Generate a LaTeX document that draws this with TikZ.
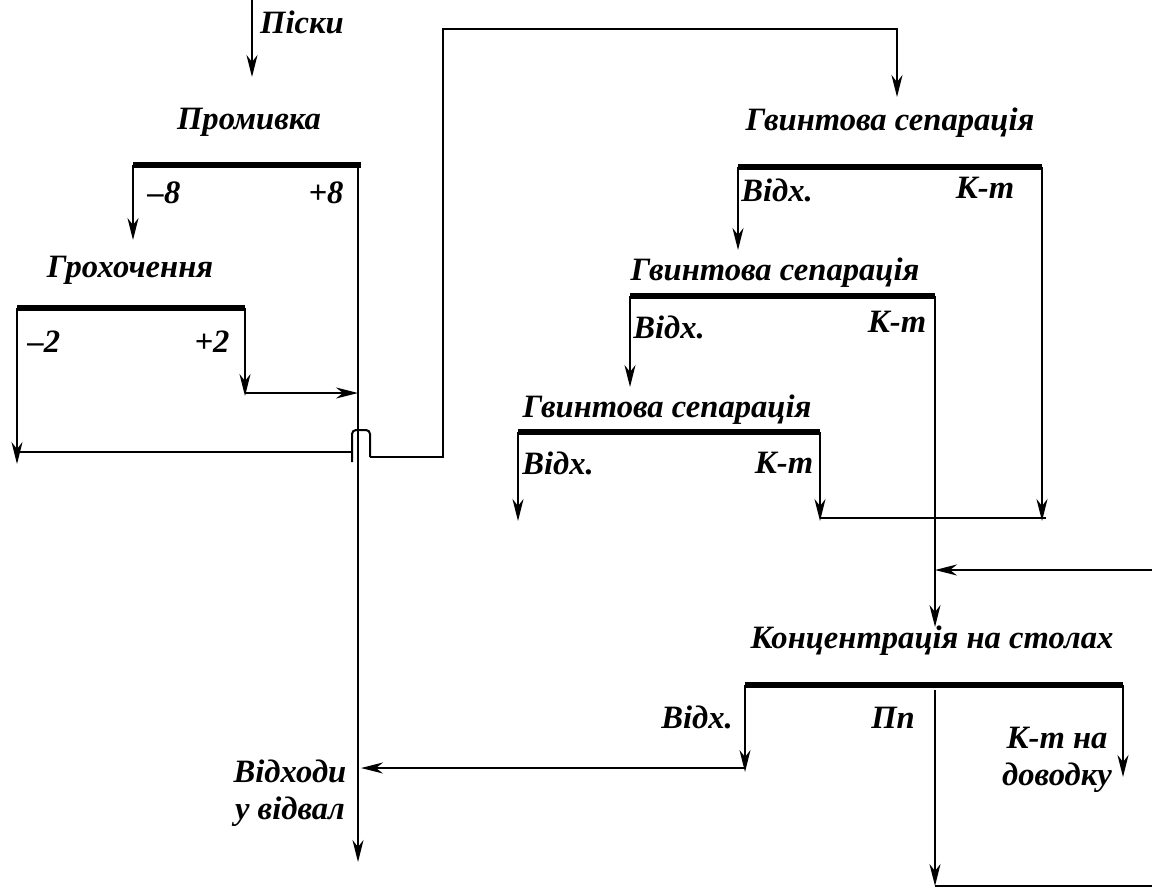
\documentclass[tikz,border=0pt]{standalone}
\usepackage{fontspec}
\setmainfont{Liberation Serif}
\usetikzlibrary{arrows.meta}
\begin{document}
\begin{tikzpicture}[x=0.5pt,y=-0.5pt,
  font=\fontsize{16.3}{18.5}\selectfont\bfseries\itshape,
  ln/.style={line width=1pt},
  bar/.style={line width=3pt},
  arr/.style={line width=1pt,-{Stealth[length=11pt,width=5.5pt,inset=3.5pt]}},
  lbl/.style={inner sep=0pt}]
\useasboundingbox (0,0) rectangle (1152,889);
% labels
\node[lbl] (piski) at (302,22) {Піски};
\node[lbl] (prom) at (249,122) {Промивка};
\node[lbl] (m8) at (164,193) {–8};
\node[lbl] (p8) at (326,193) {+8};
\node[lbl] (groh) at (130,270) {Грохочення};
\node[lbl] (m2) at (44,342) {–2};
\node[lbl] (p2) at (212,342) {+2};
\node[lbl] (gs1) at (890,123) {Гвинтова сепарація};
\node[lbl] (v1) at (777,190) {Відх.};
\node[lbl] (k1) at (985,188) {К-т};
\node[lbl] (gs2) at (775,273) {Гвинтова сепарація};
\node[lbl] (v2) at (669,327) {Відх.};
\node[lbl] (k2) at (897,322) {К-т};
\node[lbl] (gs3) at (667,410) {Гвинтова сепарація};
\node[lbl] (v3) at (558,463) {Відх.};
\node[lbl] (k3) at (784,463) {К-т};
\node[lbl] (kons) at (932,641) {Концентрація на столах};
\node[lbl] (v4) at (697,717) {Відх.};
\node[lbl] (pp) at (893,718) {Пп};
\node[lbl,align=center] (kt) at (1057,760) {К-т на\\доводку};
\node[lbl,align=center] (vidv) at (290,793) {Відходи\\у відвал};
% coordinates
\coordinate (s0) at (252,0);
\coordinate (s1) at (252,77);
\coordinate (b1l) at (133,165); \coordinate (b1r) at (361,165);
\coordinate (b1m) at (358,165);
\coordinate (b1a) at (133,240);
\coordinate (b2l) at (17,308); \coordinate (b2r) at (245,308);
\coordinate (b2a) at (17,464);
\coordinate (b2b) at (245,396);
\coordinate (b2c) at (245,393);
\coordinate (main1) at (358,393);
\coordinate (mainend) at (358,862);
\coordinate (h1) at (17,452); \coordinate (h2) at (352,452);
\coordinate (j1) at (352,462); \coordinate (j2) at (352,430); \coordinate (j3) at (370,430); \coordinate (j4) at (370,457);
\coordinate (h3) at (443,457); \coordinate (h4) at (443,29); \coordinate (h5) at (897,29); \coordinate (h6) at (897,97);
\coordinate (b3l) at (738,167); \coordinate (b3r) at (1042,167);
\coordinate (b3a) at (738,250); \coordinate (b3b) at (1042,521);
\coordinate (b4l) at (630,296); \coordinate (b4r) at (935,296);
\coordinate (b4a) at (630,387); \coordinate (b4b) at (935,627);
\coordinate (b5l) at (518,432); \coordinate (b5r) at (820,432);
\coordinate (b5a) at (518,521); \coordinate (b5b) at (820,521);
\coordinate (c1) at (820,518); \coordinate (c2) at (1046,518);
\coordinate (r1) at (1152,570); \coordinate (r2) at (935,570);
\coordinate (b6l) at (745,685); \coordinate (b6r) at (1123,685);
\coordinate (b6a) at (745,772); \coordinate (b6c) at (745,768); \coordinate (b6d) at (361,768);
\coordinate (b6b) at (1123,777);
\coordinate (pm0) at (935,690); \coordinate (pm1) at (935,886); \coordinate (pm2) at (1152,886);
% bars
\draw[bar] (b1l) -- (b1r);
\draw[bar] (b2l) -- (b2r);
\draw[bar] (b3l) -- (b3r);
\draw[bar] (b4l) -- (b4r);
\draw[bar] (b5l) -- (b5r);
\draw[bar] (b6l) -- (b6r);
% flows
\draw[arr] (s0) -- (s1);
\draw[arr] (b1l) -- (b1a);
\draw[arr] (b1m) -- (mainend);
\draw[arr] (b2l) -- (b2a);
\draw[arr] (b2r) -- (b2b);
\draw[arr] (b2c) -- (main1);
\draw[ln] (h1) -- (h2);
\draw[ln,rounded corners=2pt] (j1) -- (j2) -- (j3) -- (j4);
\draw[arr] (j4) -- (h3) -- (h4) -- (h5) -- (h6);
\draw[arr] (b3l) -- (b3a);
\draw[arr] (b3r) -- (b3b);
\draw[arr] (b4l) -- (b4a);
\draw[arr] (b4r) -- (b4b);
\draw[arr] (b5l) -- (b5a);
\draw[arr] (b5r) -- (b5b);
\draw[ln] (c1) -- (c2);
\draw[arr] (r1) -- (r2);
\draw[arr] (b6l) -- (b6a);
\draw[arr] (b6c) -- (b6d);
\draw[arr] (b6r) -- (b6b);
\draw[arr] (pm0) -- (pm1);
\draw[ln] (pm1) -- (pm2);
\end{tikzpicture}
\end{document}
